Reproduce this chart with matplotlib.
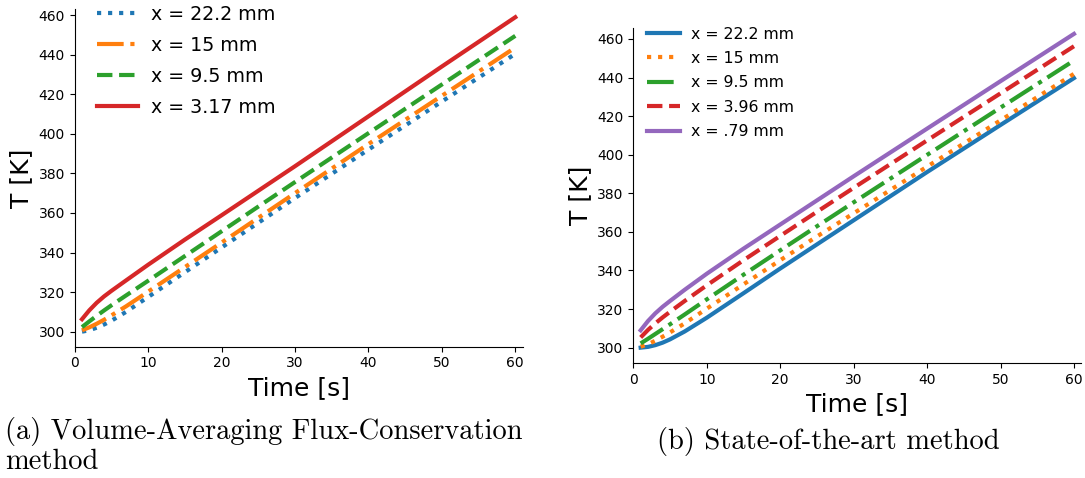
import matplotlib
matplotlib.use("Agg")
from matplotlib import pyplot as plt

# time samples [s]
t = [1, 2, 3, 4, 5, 7, 10, 15, 20, 25, 30, 40, 50, 60]

# (a) volume-averaging flux-conservation, temperatures [K]
vafc_222 = [300.0, 300.7, 302.0, 303.6, 305.5, 310.0, 317.5, 330.0, 342.5, 355.0, 367.5, 392.0, 416.3, 440.4]
vafc_15 = [300.7, 302.2, 304.0, 306.0, 308.2, 312.8, 320.2, 332.6, 345.0, 357.5, 370.0, 394.8, 419.2, 443.6]
vafc_95 = [302.3, 305.2, 308.0, 310.7, 313.3, 318.3, 325.7, 338.2, 350.7, 363.2, 375.6, 400.3, 424.9, 449.5]
vafc_317 = [306.3, 310.8, 314.6, 317.8, 320.6, 325.9, 333.8, 346.5, 358.8, 371.2, 383.6, 408.8, 434.0, 458.9]
vafc_labels = ["x = 22.2 mm", "x = 15 mm", "x = 9.5 mm", "x = 3.17 mm"]

# (b) state-of-the-art method, temperatures [K]
sota_222 = [300.0, 300.4, 301.3, 302.6, 304.3, 308.4, 315.5, 328.2, 341.0, 353.5, 366.0, 391.0, 415.4, 439.7]
sota_15 = [300.5, 301.8, 303.6, 305.7, 307.9, 312.6, 320.2, 332.8, 345.3, 357.6, 369.6, 393.8, 417.8, 441.9]
sota_95 = [302.2, 304.6, 307.1, 309.6, 312.1, 317.2, 325.0, 337.8, 350.4, 362.9, 375.3, 399.9, 424.4, 448.8]
sota_396 = [305.3, 309.2, 312.6, 315.7, 318.6, 324.2, 332.3, 345.3, 357.9, 370.4, 382.8, 407.4, 431.8, 456.2]
sota_079 = [309.0, 313.8, 317.8, 321.2, 324.2, 330.0, 338.3, 351.3, 363.8, 376.3, 388.8, 413.5, 438.1, 462.6]
sota_labels = ["x = 22.2 mm", "x = 15 mm", "x = 9.5 mm", "x = 3.96 mm", "x = .79 mm"]

fig = plt.figure(figsize=(10.85, 4.78), dpi=100, facecolor='w')


def style_axes(ax, ylim):
    ax.set_xlim(0, 61)
    ax.set_ylim(*ylim)
    ax.set_xticks(range(0, 61, 10))
    ax.set_yticks(range(300, 461, 20))
    ax.tick_params(labelsize=10)
    ax.spines['top'].set_visible(False)
    ax.spines['right'].set_visible(False)
    ax.set_xlabel("Time [s]", fontsize=18)
    ax.set_ylabel("T [K]", fontsize=18)


ax1 = fig.add_axes([0.0688, 0.2751, 0.4129, 0.7054])
ax1.plot(t, vafc_222, ':', color='tab:blue', lw=3, label=vafc_labels[0])
ax1.plot(t, vafc_15, '-.', color='tab:orange', lw=3, label=vafc_labels[1])
ax1.plot(t, vafc_95, '--', color='tab:green', lw=3, label=vafc_labels[2])
ax1.plot(t, vafc_317, '-', color='tab:red', lw=3, label=vafc_labels[3])
style_axes(ax1, (292.5, 462.9))
ax1.legend(loc='upper left', bbox_to_anchor=(0.032, 1.035), borderaxespad=0,
           frameon=False, fontsize=13.7, handlelength=2.2, handletextpad=0.65,
           labelspacing=0.62)

ax2 = fig.add_axes([0.5837, 0.2400, 0.4129, 0.7008])
ax2.plot(t, sota_222, '-', color='tab:blue', lw=3, label=sota_labels[0])
ax2.plot(t, sota_15, ':', color='tab:orange', lw=3, label=sota_labels[1])
ax2.plot(t, sota_95, '-.', color='tab:green', lw=3, label=sota_labels[2])
ax2.plot(t, sota_396, '--', color='tab:red', lw=3, label=sota_labels[3])
ax2.plot(t, sota_079, '-', color='tab:purple', lw=3, label=sota_labels[4])
style_axes(ax2, (291.9, 465.5))
ax2.legend(loc='upper left', bbox_to_anchor=(0.0176, 1.024), borderaxespad=0,
           frameon=False, fontsize=11.3, handlelength=2.1, handletextpad=0.65,
           labelspacing=0.6)

# subfigure captions
cap = dict(family='cmr10', fontsize=20.5, va='center')
fig.text(0.005, 1 - 431 / 478, "(a) Volume-Averaging Flux-Conservation", ha='left', **cap)
fig.text(0.005, 1 - 462 / 478, "method", ha='left', **cap)
fig.text(828 / 1085, 1 - 441 / 478, "(b) State-of-the-art method", ha='center', **cap)

fig.savefig("out.png", dpi=100)
